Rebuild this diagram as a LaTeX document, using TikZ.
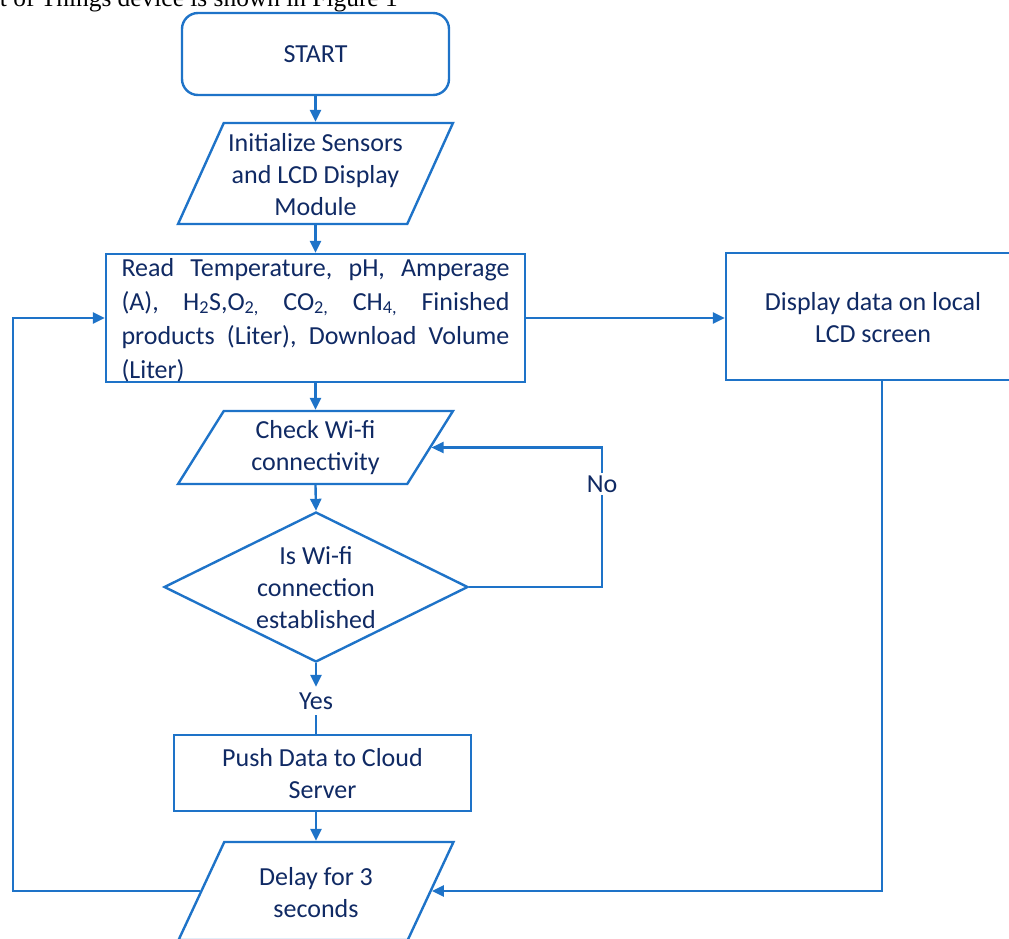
\documentclass[tikz,border=0pt]{standalone}
\usepackage{fontspec}
\setmainfont{Carlito}
\newfontfamily\topfont{Liberation Serif}
\usetikzlibrary{shapes.geometric,arrows.meta}
\definecolor{ln}{RGB}{30,115,200}
\definecolor{tx}{RGB}{16,42,100}
\newcommand{\jline}[1]{\leavevmode\hbox to 388pt{#1}}
\tikzset{
  box/.style={draw=ln, line width=2.4pt, fill=white, inner sep=0pt},
  para/.style={box, trapezium, trapezium left angle=76, trapezium right angle=104,
               trapezium stretches=true, minimum width=275pt, inner sep=5pt},
  txt/.style={text=tx, font=\fontsize{26}{32}\selectfont, align=center, inner sep=0pt},
  conn/.style={draw=ln, line width=2.4pt},
  arr/.style={conn, -{Triangle[length=12pt,width=11pt]}},
}
\begin{document}
\begin{tikzpicture}[x=1pt,y=-1pt]
\useasboundingbox (0,0) rectangle (1009,938);
\node[anchor=base east, inner sep=0pt, font=\topfont\fontsize{25.4}{30}\selectfont] (cap) at (398,6) {t of Things device is shown in Figure 1};

\node[box, rounded corners=16pt, minimum width=267pt, minimum height=82pt] (start) at (315.5,54) {};
\node[txt] (startT) at (start.center) {START};

\node[para, minimum height=101pt] (init) at (315.5,173.5) {};
\node[txt] (initT) at (315.5,174.5) {Initialize Sensors\\and LCD Display\\Module};

\node[box, minimum width=419pt, minimum height=128pt] (read) at (315.5,318) {};
\node[txt, align=left, text width=388pt, font=\fontsize{26}{34}\selectfont] (readT) at (315.5,320) {%
\jline{Read\hfill Temperature,\hfill pH,\hfill Amperage}\\
\jline{(A),\hfill H\textsubscript{2}S,O\textsubscript{2,}\hfill CO\textsubscript{2,}\hfill CH\textsubscript{4,}\hfill Finished}\\
\jline{products\hfill (Liter),\hfill Download\hfill Volume}\\
(Liter)};

\node[box, minimum width=294pt, minimum height=127pt] (disp) at (873,316.5) {};
\node[txt] (dispT) at (873,317.5) {Display data on local\\LCD screen};

\node[para, minimum height=73pt] (check) at (315.5,447.5) {};
\node[txt] (checkT) at (315.5,448) {Check Wi-fi\\connectivity};

\node[box, diamond, minimum width=304pt, minimum height=150pt, inner sep=2pt] (dec) at (316,587) {};
\node[txt] (decT) at (316,588) {Is Wi-fi\\connection\\established};

\node[txt, minimum height=28pt] (yes) at (316,701) {Yes};

\node[box, minimum width=297pt, minimum height=76pt] (push) at (322.5,773) {};
\node[txt] (pushT) at (322.5,773.5) {Push Data to Cloud\\Server};

\node[para, minimum height=98pt] (delay) at (316,891) {};
\node[txt] (delayT) at (316,892.5) {Delay for 3\\seconds};

\coordinate (lx) at (13,0);
\coordinate (nx) at (602,0);
\coordinate (rx) at (882,0);

\draw[arr] (start.south) -- (init.north);
\draw[arr] (init.south) -- (read.north);
\draw[arr] (read.east) -- (read.east -| disp.west);
\draw[arr] (read.south) -- (check.north);
\draw[arr] (check.south) -- (dec.north);
\draw[arr] (dec.east) -- (dec.east -| nx) |- (check.east);
\node[txt, fill=white, inner sep=3pt] (no) at (602,484) {No};
\draw[arr] (dec.south) -- (yes.north);
\draw[conn] (yes.south) -- (yes.south |- push.north);
\draw[arr] (delay.north |- push.south) -- (delay.north);
\draw[arr] (disp.south -| rx) |- (delay.east);
\draw[arr] (delay.west) -- (delay.west -| lx) |- (read.west);
\end{tikzpicture}
\end{document}
